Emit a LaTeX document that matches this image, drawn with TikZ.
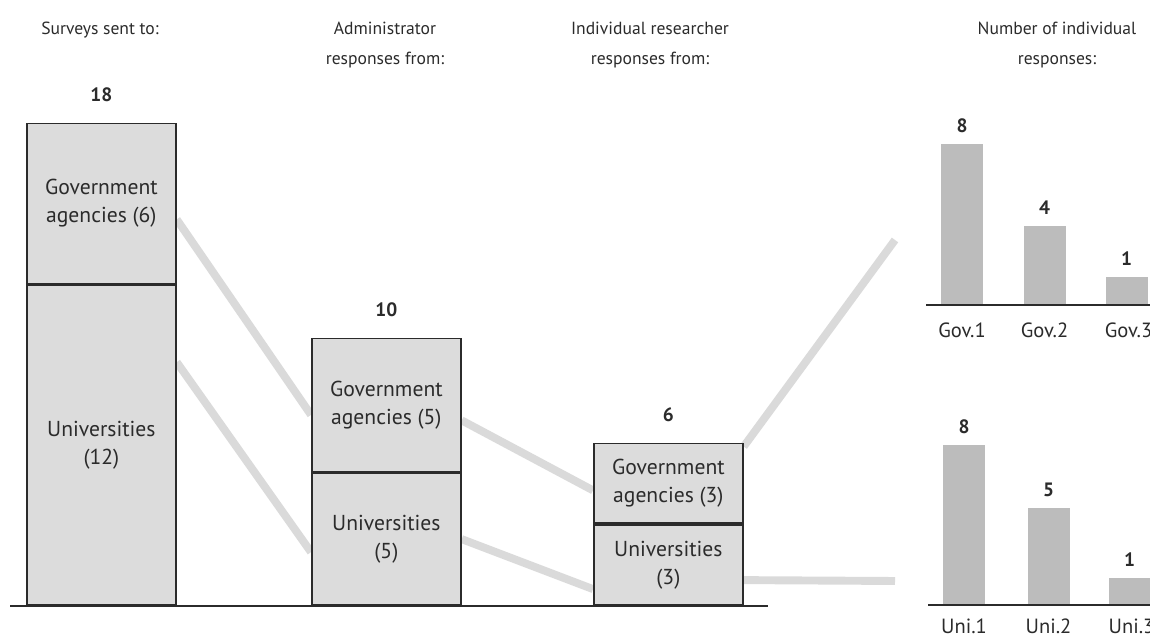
\documentclass[tikz,border=0pt]{standalone}
\usepackage{fontspec}
\setmainfont{PT Sans}
\usetikzlibrary{positioning}
\pgfdeclarelayer{background}
\pgfsetlayers{background,main}
\definecolor{boxfill}{HTML}{DCDCDC}
\definecolor{barfill}{HTML}{BCBCBC}
\definecolor{linkgray}{HTML}{DADADA}
\definecolor{ink}{HTML}{2B2B2B}
\begin{document}
\begin{tikzpicture}[x=0.02cm,y=0.02cm,
  box/.style={draw=ink,line width=1pt,fill=boxfill,minimum width=2.98cm,
    inner sep=0pt,align=center,text=ink,font=\fontsize{12.3}{16}\selectfont},
  total/.style={inner sep=0pt,text=ink,font=\bfseries\fontsize{11}{13}\selectfont},
  head/.style={align=center,text=ink,font=\fontsize{10}{17}\selectfont},
  link/.style={linkgray,line width=4.5pt},
  bar/.style={fill=barfill,minimum width=0.84cm,inner sep=0pt,anchor=south},
  cat/.style={inner sep=0pt,text=ink,font=\fontsize{11.7}{13}\selectfont},
  axis/.style={ink,line width=1.5pt}]
  \useasboundingbox (0,0) rectangle (1150,641);
  % column heads
  \node[head] (h1) at (100,611) {Surveys sent to:};
  \node[head] (h2) at (385,596) {Administrator\\responses from:};
  \node[head] (h3) at (650,596) {Individual researcher\\responses from:};
  \node[head] (h4) at (1057,596) {Number of individual\\responses:};
  % stacked boxes
  \node[box,minimum height=6.4cm,anchor=south west] (u1) at (26,35) {Universities\\(12)};
  \node[box,minimum height=3.2cm,above=0pt of u1] (g1) {Government\\agencies (6)};
  \node[total,above=0.4cm of g1] (t1) {18};
  \node[box,minimum height=2.64cm,anchor=south west] (u2) at (311,35) {Universities\\(5)};
  \node[box,minimum height=2.66cm,above=0pt of u2] (g2) {Government\\agencies (5)};
  \node[total,above=0.4cm of g2] (t2) {10};
  \node[box,minimum height=1.6cm,anchor=south west] (u3) at (593,35) {Universities\\(3)};
  \node[box,minimum height=1.6cm,above=0pt of u3] (g3) {Government\\agencies (3)};
  \node[total,above=0.4cm of g3] (t3) {6};
  \draw[axis] (10,35) -- (768,35);
  % links
  \coordinate (gend) at (895,401);
  \coordinate (uend) at (895,60);
  \begin{pgfonlayer}{background}
    \draw[link] ([yshift=-0.32cm]g1.east) -- ([yshift=-0.2cm]g2.west);
    \draw[link] ([yshift=1.66cm]u1.east) -- ([yshift=-0.26cm]u2.west);
    \draw[link] ([yshift=-0.31cm]g2.east) -- ([yshift=-0.14cm]g3.west);
    \draw[link] (u2.east) -- ([yshift=-0.48cm]u3.west);
    \draw[link] ([yshift=-0.08cm]g3.north east) -- (gend);
    \draw[link] ([yshift=-0.3cm]u3.east) -- (uend);
  \end{pgfonlayer}
  % government bars
  \node[bar,minimum height=3.22cm] (gb1) at (962,336) {};
  \node[bar,minimum height=1.58cm] (gb2) at (1044.5,336) {};
  \node[bar,minimum height=0.56cm] (gb3) at (1126.5,336) {};
  \node[total,above=0.2cm of gb1] (gn1) {8};
  \node[total,above=0.2cm of gb2] (gn2) {4};
  \node[total,above=0.2cm of gb3] (gn3) {1};
  \draw[axis,line width=1.2pt] (926,336) -- (1150,336);
  \node[cat,below=0.36cm of gb1] (gc1) {Gov.1};
  \node[cat,below=0.36cm of gb2] (gc2) {Gov.2};
  \node[cat,below=0.36cm of gb3,xshift=0.04cm] (gc3) {Gov.3};
  % university bars
  \node[bar,minimum height=3.2cm] (ub1) at (964,36) {};
  \node[bar,minimum height=1.94cm] (ub2) at (1048.5,36) {};
  \node[bar,minimum height=0.54cm] (ub3) at (1129.5,36) {};
  \node[total,above=0.2cm of ub1] (un1) {8};
  \node[total,above=0.2cm of ub2] (un2) {5};
  \node[total,above=0.2cm of ub3] (un3) {1};
  \draw[axis,line width=1.2pt] (928,36) -- (1150,36);
  \node[cat,below=0.28cm of ub1] (uc1) {Uni.1};
  \node[cat,below=0.28cm of ub2] (uc2) {Uni.2};
  \node[cat,below=0.28cm of ub3,xshift=0.04cm] (uc3) {Uni.3};
\end{tikzpicture}
\end{document}
